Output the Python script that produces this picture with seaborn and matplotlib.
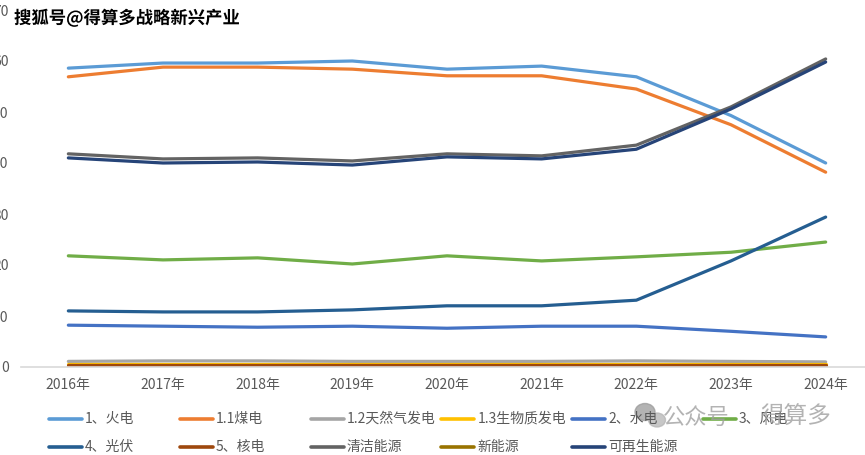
import pandas as pd
import matplotlib
matplotlib.use('Agg')
import matplotlib.pyplot as plt
import matplotlib.patheffects as pe
from matplotlib.lines import Line2D
from matplotlib.patches import Ellipse
import seaborn as sns

# Data (share, %)
years = ['2016年', '2017年', '2018年', '2019年', '2020年', '2021年', '2022年', '2023年', '2024年']
huodian = [58.6, 59.6, 59.6, 60.0, 58.4, 59.0, 56.9, 49.3, 40.0]
meidian = [56.9, 58.8, 58.8, 58.4, 57.1, 57.1, 54.5, 47.5, 38.2]
tianranqi = [1.1, 1.2, 1.2, 1.1, 1.1, 1.1, 1.2, 1.1, 1.0]
shengwuzhi = [0.6, 0.6, 0.6, 0.6, 0.6, 0.6, 0.6, 0.6, 0.6]
shuidian = [8.2, 8.0, 7.8, 8.0, 7.6, 8.0, 8.0, 7.0, 5.9]
fengdian = [21.8, 21.0, 21.4, 20.2, 21.8, 20.8, 21.6, 22.5, 24.5]
guangfu = [11.0, 10.8, 10.8, 11.2, 12.0, 12.0, 13.1, 20.8, 29.4]
hedian = [0.3, 0.3, 0.3, 0.3, 0.3, 0.3, 0.3, 0.3, 0.3]
qingjie = [41.8, 40.8, 41.0, 40.4, 41.8, 41.4, 43.5, 51.0, 60.4]
xinnengyuan = [0.0, 0.0, 0.0, 0.0, 0.0, 0.0, 0.0, 0.0, 0.0]
kezaisheng = [41.0, 40.0, 40.2, 39.6, 41.2, 40.8, 42.7, 50.6, 59.8]

series_names = ['1、火电', '1.1煤电', '1.2天然气发电', '1.3生物质发电', '2、水电', '3、风电',
                '4、光伏', '5、核电', '清洁能源', '新能源', '可再生能源']
series_values = [huodian, meidian, tianranqi, shengwuzhi, shuidian, fengdian,
                 guangfu, hedian, qingjie, xinnengyuan, kezaisheng]
colors = ['#5B9BD5', '#ED7D31', '#A5A5A5', '#FFC000', '#4472C4', '#70AD47',
          '#255E91', '#9E480E', '#636363', '#997300', '#264478']

# long form table for seaborn
rows = []
for name, vals in zip(series_names, series_values):
    for yr, v in zip(years, vals):
        rows.append({'年份': yr, '类型': name, '占比': v})
df = pd.DataFrame(rows)

sns.set_theme(style='white')
plt.rcParams['font.family'] = ['Noto Sans CJK SC', 'DejaVu Sans']

fig = plt.figure(figsize=(8.65, 4.55), dpi=100)
ax = fig.add_axes([21 / 865, 88 / 455, 852 / 865, 357 / 455])

# draw the empty 新能源 line first so it sits under the others
draw_order = ['新能源'] + [n for n in series_names if n != '新能源']
palette = dict(zip(series_names, colors))
sns.lineplot(data=df, x='年份', y='占比', hue='类型', hue_order=draw_order,
             palette=palette, linewidth=2.3, sort=False, legend=False, ax=ax)

ax.set_xlim(-0.5, 8.5)
ax.set_ylim(0, 70)
ax.set_yticks(range(0, 71, 10))
ax.set_xlabel('')
ax.set_ylabel('')
for s in ['top', 'right', 'left']:
    ax.spines[s].set_visible(False)
ax.spines['bottom'].set_color('#D9D9D9')
ax.spines['bottom'].set_linewidth(1.2)
ax.tick_params(axis='both', length=0, labelsize=10, colors='#595959')
ax.tick_params(axis='x', pad=8)
ax.tick_params(axis='y', pad=9)

# legend laid out like the Excel one: 6 columns, filled row by row
for i, (name, c) in enumerate(zip(series_names, colors)):
    col, row = i % 6, i // 6
    x0 = (49 + col * 130.8) / 865
    y0 = 1 - (419 + row * 28) / 455
    fig.add_artist(Line2D([x0, x0 + 33 / 865], [y0, y0], color=c, linewidth=2.6,
                          solid_capstyle='round', transform=fig.transFigure))
    fig.text(x0 + 36 / 865, y0, name, fontsize=10, color='#595959', va='center', ha='left')

# watermarks
fig.text(14 / 865, 1 - 18 / 455, '搜狐号@得算多战略新兴产业', fontsize=12.5, fontweight='bold',
         color='black', va='center', ha='left',
         path_effects=[pe.withStroke(linewidth=3, foreground='white')])
fig.add_artist(Ellipse((645 / 865, 1 - 412 / 455), 20 / 865, 17 / 455, color='#9a9a9a',
                       alpha=0.75, transform=fig.transFigure))
fig.add_artist(Ellipse((657 / 865, 1 - 420 / 455), 17 / 865, 14 / 455, color='#b5b5b5',
                       alpha=0.75, transform=fig.transFigure))
fig.text(663 / 865, 1 - 417 / 455, '公众号', fontsize=16, color='#a0a0a0', alpha=0.8,
         va='center', ha='left')
fig.text(760 / 865, 1 - 417 / 455, '得算多', fontsize=17, color='#a0a0a0', alpha=0.8,
         va='center', ha='left')

plt.savefig('out.png', dpi=100)
